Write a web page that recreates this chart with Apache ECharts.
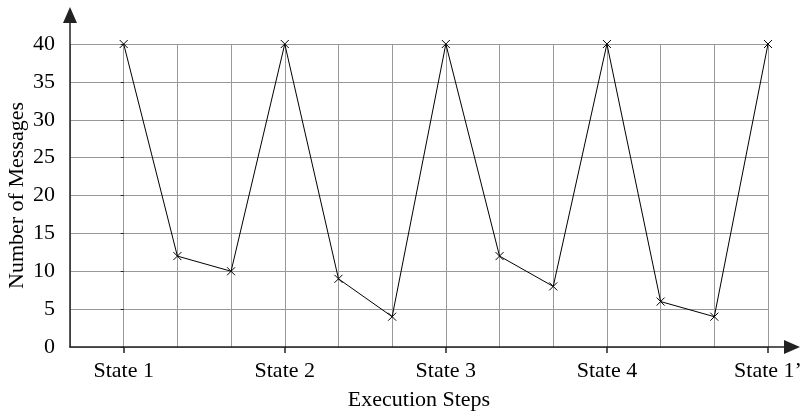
<!DOCTYPE html>
<html>
<head>
<meta charset="utf-8">
<script src="https://cdn.jsdelivr.net/npm/echarts@6/dist/echarts.min.js"></script>
<style>
html, body { margin: 0; padding: 0; background: #fff; }
#chart { width: 802px; height: 417px; }
</style>
</head>
<body>
<div id="chart"></div>
<script>
// execution steps, one per point; only the states get a label
const stepLabels = ['State 1', '', '', 'State 2', '', '', 'State 3', '', '', 'State 4', '', '', 'State 1\u2019'];
const messages = [40, 12, 10, 40, 9, 4, 40, 12, 8, 40, 6, 4, 40];
const yTicks = { min: 0, max: 40, step: 5 };

const stateIdx = stepLabels.map((l, i) => l ? i : -1).filter(i => i >= 0);
const font = 'Liberation Serif';
const fs = 22;
const axisColor = '#222';
const gridColor = '#999';

// plain axis used only for the arrowed axis lines (second grid)
function arrowAxis() {
    return {
        type: 'value',
        gridIndex: 1,
        min: 0, max: 1,
        axisLine: { show: true, symbol: ['none', 'triangle'], symbolSize: [14, 16], lineStyle: { color: axisColor, width: 1.5 } },
        axisTick: { show: false },
        axisLabel: { show: false },
        splitLine: { show: false }
    };
}

const chart = echarts.init(document.getElementById('chart'));
chart.setOption({
    animation: false,
    backgroundColor: '#fff',
    grid: [
        { left: 70, right: 34, top: 44, bottom: 70, outerBoundsMode: 'none', containLabel: false },
        { left: 70, right: 10, top: 15, bottom: 70, outerBoundsMode: 'none', containLabel: false }
    ],
    xAxis: [{
        // every step gets a vertical grid line
        type: 'value',
        gridIndex: 0,
        min: -1,
        max: stepLabels.length - 1,
        interval: 1,
        axisLine: { show: false },
        axisTick: { show: false },
        axisLabel: { show: false },
        splitLine: { show: true, lineStyle: { color: gridColor, width: 1 } }
    }, {
        // ticks and labels only at the states
        type: 'value',
        gridIndex: 0,
        position: 'bottom',
        min: -1,
        max: stepLabels.length - 1,
        interval: 1,
        name: 'Execution Steps',
        nameLocation: 'middle',
        nameGap: 42,
        nameTextStyle: { fontFamily: font, fontSize: fs, color: '#000' },
        axisLine: { show: false },
        axisTick: { show: true, customValues: stateIdx, length: 6, lineStyle: { color: axisColor, width: 1.5 } },
        axisLabel: {
            customValues: stateIdx,
            margin: 13,
            fontFamily: font, fontSize: fs, color: '#000',
            formatter: v => stepLabels[v] || ''
        },
        splitLine: { show: false }
    }, arrowAxis()],
    yAxis: [{
        type: 'value',
        gridIndex: 0,
        min: yTicks.min,
        max: yTicks.max,
        interval: yTicks.step,
        name: 'Number of Messages',
        nameLocation: 'middle',
        nameGap: 42,
        nameMoveOverlap: false,
        nameTextStyle: { fontFamily: font, fontSize: fs, color: '#000' },
        axisLine: { show: false },
        axisTick: { show: true, length: 3, lineStyle: { color: axisColor } },
        axisLabel: { margin: 15, fontFamily: font, fontSize: fs, color: '#000' },
        splitLine: { show: true, lineStyle: { color: gridColor, width: 1 } }
    }, arrowAxis()],
    series: [{
        type: 'line',
        xAxisIndex: 0,
        yAxisIndex: 0,
        data: messages.map((v, i) => [i, v]),
        symbol: 'path://M0,0L10,10M10,0L0,10',
        symbolSize: 8,
        itemStyle: { color: 'none', borderColor: '#000', borderWidth: 1 },
        lineStyle: { color: '#000', width: 1 },
        z: 5
    }]
});
</script>
</body>
</html>
